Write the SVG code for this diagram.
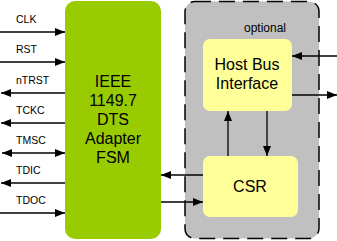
<svg xmlns="http://www.w3.org/2000/svg" width="337" height="241" viewBox="0 0 337 241">
<defs>
<marker id="ah" viewBox="0 0 10 8" refX="10" refY="4" markerWidth="10" markerHeight="8" markerUnits="userSpaceOnUse" orient="auto-start-reverse">
<path d="M0,0 L10,4 L0,8 Z" fill="#000"/>
</marker>
</defs>
<style>
.lbl{font-family:"Liberation Sans",Arial,sans-serif;font-size:10.5px;fill:#000}
.opt{font-family:"Liberation Sans",Arial,sans-serif;font-size:12px;fill:#000;text-anchor:middle}
.big{font-family:"Liberation Sans",Arial,sans-serif;font-size:16px;fill:#000;text-anchor:middle}
.ln{stroke:#000;stroke-width:1.3;fill:none}
.ar{marker-end:url(#ah)}
.ar2{marker-start:url(#ah);marker-end:url(#ah)}
</style>
<rect width="337" height="241" fill="#fff"/>
<g id="optional">
<rect x="185" y="1.5" width="134" height="237" rx="10" fill="#c0c0c0" stroke="#000" stroke-width="1.5" stroke-dasharray="16,8"/>
<text x="265" y="32" class="opt">optional</text>
</g>
<g id="fsm">
<rect x="65" y="1" width="96" height="238" rx="10" fill="#99cc00"/>
<text class="big" x="113" y="87">IEEE</text>
<text class="big" x="113" y="106">1149.7</text>
<text class="big" x="113" y="125">DTS</text>
<text class="big" x="113" y="144">Adapter</text>
<text class="big" x="113" y="163">FSM</text>
</g>
<g id="hbi">
<rect x="203" y="39" width="89" height="72" rx="7" fill="#ffff99"/>
<text class="big" x="247" y="70">Host Bus</text>
<text class="big" x="247" y="89">Interface</text>
</g>
<g id="csr">
<rect x="203" y="156" width="95" height="61" rx="7" fill="#ffff99"/>
<text class="big" x="250" y="192">CSR</text>
</g>
<g id="labels">
<text class="lbl" x="16" y="23">CLK</text>
<text class="lbl" x="16" y="53">RST</text>
<text class="lbl" x="16" y="84">nTRST</text>
<text class="lbl" x="16" y="114">TCKC</text>
<text class="lbl" x="16" y="144">TMSC</text>
<text class="lbl" x="16" y="174">TDIC</text>
<text class="lbl" x="16" y="204">TDOC</text>
</g>
<g id="connectors">
<line class="ln ar" x1="0" y1="32" x2="65" y2="32"/>
<line class="ln ar" x1="0" y1="62" x2="65" y2="62"/>
<line class="ln ar" x1="65" y1="93" x2="1" y2="93"/>
<line class="ln ar" x1="65" y1="123" x2="1" y2="123"/>
<line class="ln ar2" x1="2" y1="153" x2="65" y2="153"/>
<line class="ln ar" x1="65" y1="183" x2="1" y2="183"/>
<line class="ln ar" x1="0" y1="213" x2="65" y2="213"/>
<line class="ln ar" x1="337" y1="56" x2="292" y2="56"/>
<line class="ln ar" x1="292" y1="95" x2="337" y2="95"/>
<line class="ln ar" x1="228" y1="156" x2="228" y2="111"/>
<line class="ln ar" x1="267" y1="111" x2="267" y2="156"/>
<line class="ln ar" x1="203" y1="175" x2="161" y2="175"/>
<line class="ln ar" x1="161" y1="202" x2="203" y2="202"/>
</g>
</svg>
